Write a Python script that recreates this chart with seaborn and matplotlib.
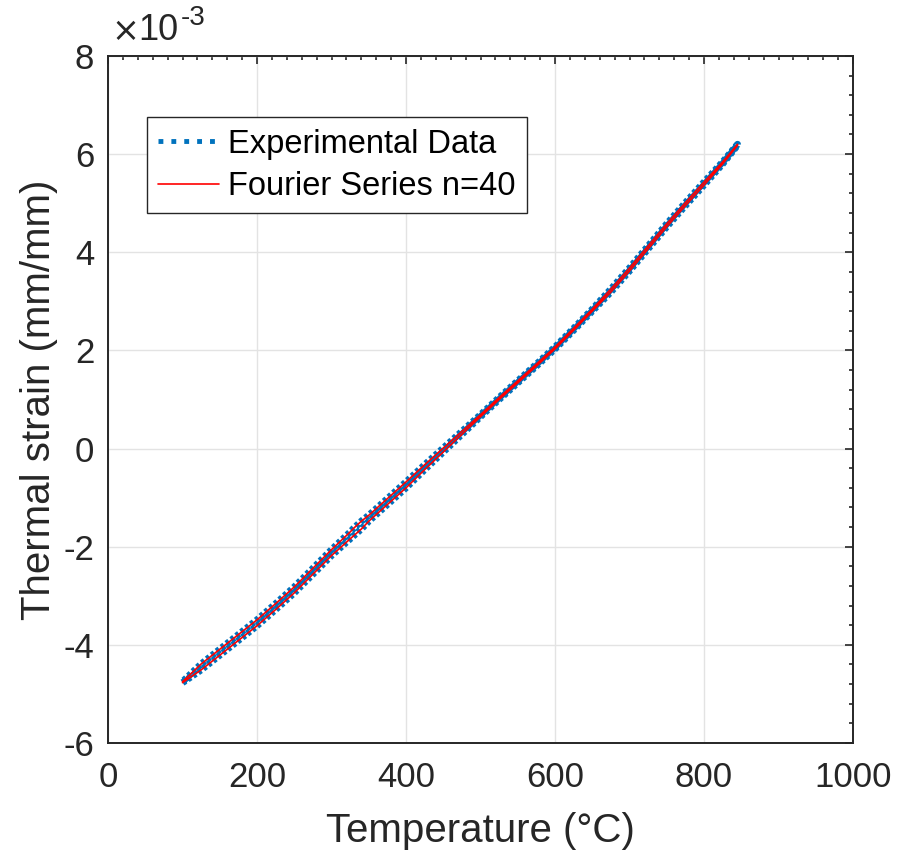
import numpy as np
import pandas as pd
import matplotlib
matplotlib.use("Agg")
import matplotlib.pyplot as plt
import seaborn as sns
from matplotlib.ticker import MultipleLocator, FuncFormatter

# ---- data (strain in units of 1e-3 mm/mm) ----
SCALE = 1e-3
temp_heat = [100, 125, 150, 175, 200, 225, 250, 275, 300, 325, 340, 350, 375, 400, 425,
             450, 475, 500, 525, 550, 575, 600, 625, 650, 675, 700, 725, 750, 775, 800, 825, 845]
strain_heat = [-4.77, -4.51, -4.21, -3.91, -3.61, -3.28, -2.94, -2.56, -2.18, -1.84, -1.64, -1.48,
               -1.14, -0.80, -0.43, -0.07, 0.29, 0.65, 1.00, 1.34, 1.68, 2.03, 2.41, 2.80, 3.19,
               3.62, 4.07, 4.52, 4.95, 5.37, 5.80, 6.18]
temp_cool = [845, 825, 800, 775, 750, 725, 700, 675, 650, 625, 600, 575, 550, 525, 500, 475,
             450, 425, 400, 375, 350, 340, 330, 325, 300, 275, 250, 225, 200, 175, 150, 125, 100]
strain_cool = [6.20, 5.84, 5.43, 5.01, 4.58, 4.13, 3.68, 3.25, 2.84, 2.45, 2.07, 1.72, 1.38, 1.04,
               0.69, 0.35, 0.01, -0.33, -0.68, -1.02, -1.36, -1.48, -1.62, -1.70, -2.06, -2.44,
               -2.82, -3.16, -3.49, -3.79, -4.09, -4.39, -4.75]

labels = ["Experimental Data", "Fourier Series n=40"]
xticks = [0, 200, 400, 600, 800, 1000]
yticks = [-6, -4, -2, 0, 2, 4, 6, 8]

temps = temp_heat + temp_cool
strains = [s * SCALE for s in strain_heat + strain_cool]
order = list(range(len(temps)))
df = pd.DataFrame({"T": temps, "strain": strains, "order": order})

sns.set_style("white")
plt.rcParams["font.family"] = ["Liberation Sans", "DejaVu Sans"]
plt.rcParams["axes.unicode_minus"] = False
plt.rcParams["text.color"] = "#262626"

TXT = "#262626"
BLUE = "#0072BD"
fig = plt.figure(figsize=(8.98, 8.57), dpi=100)
ax = fig.add_axes([0.1203, 0.133, 0.8296, 0.8017])

sns.lineplot(data=df, x="T", y="strain", sort=False, estimator=None, ax=ax,
             color=BLUE, linestyle=(0, (0.5, 0.4)), linewidth=5, label=labels[0])
sns.lineplot(data=df, x="T", y="strain", sort=False, estimator=None, ax=ax,
             color="#FF0000", linestyle="-", linewidth=1.2, label=labels[1])

ax.set_xlim(0, 1000)
ax.set_ylim(-6e-3, 8e-3)
ax.set_xticks(xticks)
ax.set_yticks([v * SCALE for v in yticks])
ax.xaxis.set_minor_locator(MultipleLocator(20))
ax.yaxis.set_minor_locator(MultipleLocator(0.4e-3))
ax.yaxis.set_major_formatter(FuncFormatter(lambda v, p: f"{v / SCALE:.0f}"))

ax.grid(True, which="major", color="#E3E3E3", linewidth=1.0)
ax.set_axisbelow(True)
for sp in ax.spines.values():
    sp.set_visible(True)
    sp.set_color(TXT)
    sp.set_linewidth(1.4)

ax.tick_params(which="both", direction="in", top=True, right=True, colors=TXT,
               labelsize=25, width=1.2)
ax.tick_params(which="major", length=6, pad=10)
ax.tick_params(axis="x", which="major", pad=13)
ax.tick_params(which="minor", length=3)

ax.set_xlabel("Temperature (°C)", fontsize=29, color=TXT, labelpad=13)
ax.set_ylabel("Thermal strain (mm/mm)", fontsize=29, color=TXT, labelpad=4)

# exponent label (MATLAB style)
ax.text(0.004, 1.012, "×", transform=ax.transAxes, fontsize=24, color=TXT,
        ha="left", va="bottom", family="DejaVu Sans")
ax.text(0.041, 1.012, "10", transform=ax.transAxes, fontsize=26, color=TXT,
        ha="left", va="bottom")
ax.text(0.097, 1.036, "-3", transform=ax.transAxes, fontsize=20, color=TXT,
        ha="left", va="bottom")

leg = ax.legend(loc="upper left", bbox_to_anchor=(0.052, 0.911), borderaxespad=0,
                fontsize=23.5, frameon=True, fancybox=False, framealpha=1,
                edgecolor=TXT, handlelength=1.85, handletextpad=0.3,
                labelspacing=0.35, borderpad=0.35)
leg.get_frame().set_linewidth(1.0)
h0 = leg.legend_handles[0]
h0.set_linestyle(":")
h0.set_linewidth(3.5)
for t in leg.get_texts():
    t.set_color("black")

fig.savefig("out.png", dpi=100)
